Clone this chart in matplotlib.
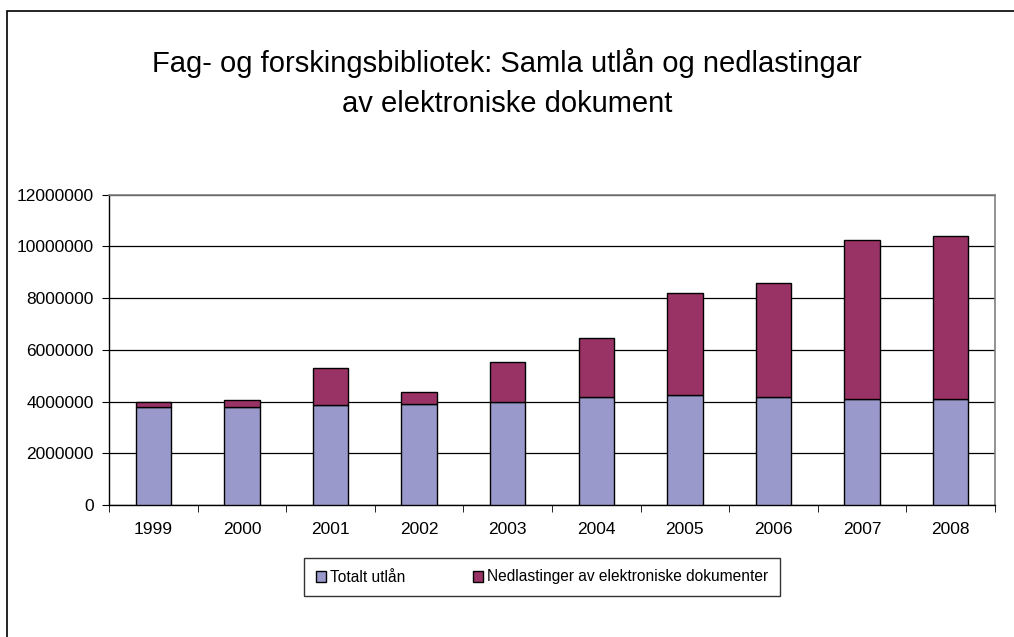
import numpy as np
import matplotlib.pyplot as plt
from matplotlib.patches import Rectangle

plt.rcParams['font.family'] = ['Liberation Sans', 'DejaVu Sans']

years = ['1999', '2000', '2001', '2002', '2003', '2004', '2005', '2006', '2007', '2008']
utlan = [3780000, 3780000, 3860000, 3920000, 3990000, 4180000, 4240000, 4180000, 4110000, 4110000]
totals = [3990000, 4060000, 5290000, 4380000, 5540000, 6460000, 8190000, 8580000, 10260000, 10390000]
nedlast = [t - u for t, u in zip(totals, utlan)]

fig = plt.figure(figsize=(10.14, 6.37), dpi=100)
# outer chart frame (only top and left edges are visible in the crop)
fig.patches.append(Rectangle((7/1014, -0.1), 1.2, (637-10.5)/637 + 0.1,
                             transform=fig.transFigure, fill=False,
                             edgecolor='black', linewidth=1.2))

ax = fig.add_axes([109/1014, 1-505/637, (995-109)/1014, (505-194.7)/637])
x = np.arange(len(years))
ax.bar(x, utlan, width=0.4, color='#9999CC', edgecolor='black', linewidth=1,
       label='Totalt utlån', zorder=3)
ax.bar(x, nedlast, width=0.4, bottom=utlan, color='#993366', edgecolor='black',
       linewidth=1, label='Nedlastinger av elektroniske dokumenter', zorder=3)

ax.set_xlim(-0.5, len(years) - 0.5)
ax.set_ylim(0, 12000000)
ax.set_yticks(np.arange(0, 12000001, 2000000))
ax.set_yticklabels([str(v) for v in range(0, 12000001, 2000000)])
ax.yaxis.grid(True, color='black', linewidth=0.9, zorder=0)
ax.set_axisbelow(True)

ax.set_xticks(x)
ax.set_xticklabels(years)
ax.set_xticks(np.arange(-0.5, len(years)), minor=True)
ax.tick_params(axis='x', which='major', length=0, pad=12, labelsize=12.5)
ax.tick_params(axis='x', which='minor', length=5, direction='out', color='black')
ax.tick_params(axis='y', length=5, direction='out', labelsize=12.5, pad=6, color='black')

for s in ['top', 'right']:
    ax.spines[s].set_color('#808080')
    ax.spines[s].set_linewidth(1.2)
for s in ['left', 'bottom']:
    ax.spines[s].set_color('black')
    ax.spines[s].set_linewidth(1)

fig.text(507/1014, 1-63/637, 'Fag- og forskingsbibliotek: Samla utlån og nedlastingar',
         ha='center', va='center', fontsize=21)
fig.text(507/1014, 1-104/637, 'av elektroniske dokument',
         ha='center', va='center', fontsize=21)

leg = ax.legend(loc='center', bbox_to_anchor=(542/1014, 1-577/637),
                bbox_transform=fig.transFigure, ncol=2, fontsize=11.2,
                frameon=True, fancybox=False, edgecolor='black',
                handlelength=0.7, handleheight=0.7, handletextpad=0.25,
                columnspacing=4.3, borderpad=0.75, borderaxespad=0)
leg.get_frame().set_linewidth(1)

fig.savefig('out.png', dpi=100)
